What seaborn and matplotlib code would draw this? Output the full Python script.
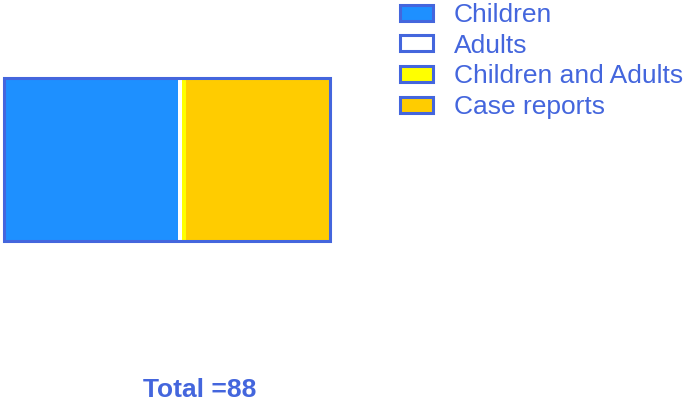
import numpy as np
import pandas as pd
import matplotlib
matplotlib.use("Agg")
import matplotlib.pyplot as plt
import seaborn as sns
from matplotlib.patches import Patch

# study groups and counts
groups = ["Children", "Adults", "Children and Adults", "Case reports"]
counts = [47, 1, 1, 39]
fills = ["#1E90FF", "#FFFFFF", "#FFFF00", "#FFCC00"]
edge = "#4466DD"

sns.set_theme(style="white")
plt.rcParams["font.family"] = ["Liberation Sans", "DejaVu Sans"]

fig = plt.figure(figsize=(6.85, 4.01), dpi=100)
ax = fig.add_axes([4 / 685, (401 - 241) / 401, 326 / 685, 163 / 401])

# stacked bar: draw cumulative sums, largest first
cum = np.cumsum(counts)
for g, c, col in reversed(list(zip(groups, cum, fills))):
    df = pd.DataFrame({"row": ["all"], "value": [c]})
    sns.barplot(data=df, x="value", y="row", orient="h", color=col,
                width=1, linewidth=0, saturation=1, ax=ax)

# outer border around whole bar
df_tot = pd.DataFrame({"row": ["all"], "value": [sum(counts)]})
sns.barplot(data=df_tot, x="value", y="row", orient="h", fill=False,
            edgecolor=edge, linewidth=2.2, width=1, ax=ax)
for p in ax.patches:
    p.set_clip_on(False)

ax.set_xlim(0, sum(counts))
ax.set_ylim(0.5, -0.5)
ax.axis("off")

handles = [Patch(facecolor=f, edgecolor=edge, linewidth=2.2) for f in fills]
fig.legend(handles, groups, loc="upper left",
           bbox_to_anchor=(400 / 685, 1 - 3 / 401),
           frameon=False, borderpad=0, borderaxespad=0, fontsize=19,
           labelcolor=edge, handlelength=1.25, handleheight=0.55,
           handletextpad=0.8, labelspacing=0.255)

fig.text(200 / 685, 1 - 390 / 401, f"Total ={sum(counts)}", color=edge,
         fontsize=19, fontweight="bold", ha="center", va="center")

fig.savefig("out.png", dpi=100)
